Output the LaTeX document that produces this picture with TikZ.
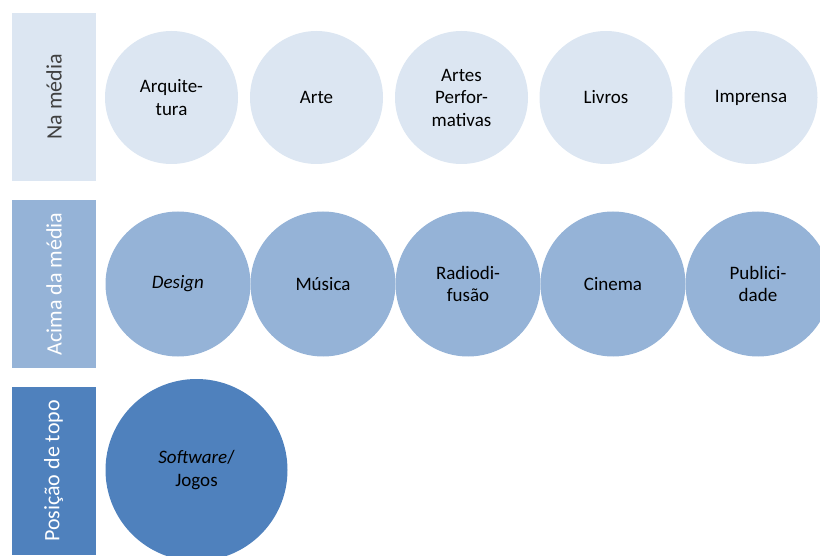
\documentclass[tikz,border=0pt]{standalone}
\usepackage{fontspec}
\setmainfont{Carlito}
\begin{document}
\begin{tikzpicture}[x=1pt,y=-1pt,
  bar/.style={minimum width=84pt,minimum height=168pt,inner sep=0pt,outer sep=0pt},
  lbl/.style={rotate=90,font=\fontsize{22}{26}\selectfont},
  circA/.style={circle,fill=lightb,minimum size=133pt,inner sep=0pt,align=center,font=\fontsize{19}{22.5}\selectfont,text=black},
  circB/.style={circle,fill=midb,minimum size=145pt,inner sep=0pt,align=center,font=\fontsize{19}{22.5}\selectfont,text=black},
  circC/.style={circle,fill=darkb,minimum size=182pt,inner sep=0pt,align=center,font=\fontsize{19}{22.5}\selectfont,text=black}]
\definecolor{lightb}{HTML}{DCE6F2}
\definecolor{midb}{HTML}{95B3D7}
\definecolor{darkb}{HTML}{4F81BD}
\definecolor{lbldark}{HTML}{404040}
\useasboundingbox (0,0) rectangle (820,556);
\begin{scope}
\clip (0,0) rectangle (820,556);
% bars
\node[bar,fill=lightb] (b1) at (54,97) {};
\node[bar,fill=midb] (b2) at (54,284) {};
\node[bar,fill=darkb] (b3) at (53.5,471) {};
\node[lbl,text=lbldark] (l1) at (b1) {Na média};
\node[lbl,text=white] (l2) at (b2) {Acima da média};
\node[lbl,text=white] (l3) at (b3) {Posição de topo};
% row 1
\node[circA] (a1) at (171.5,97.5) {Arquite-\\tura};
\node[circA] (a2) at (316.5,97.5) {Arte};
\node[circA] (a3) at (461.5,97.5) {Artes\\Perfor-\\mativas};
\node[circA] (a4) at (606,97.5) {Livros};
\node[circA] (a5) at (751,97.5) {Imprensa};
% row 2
\node[circB] (m1) at (178,284) {\textit{Design}};
\node[circB] (m2) at (323,284) {Música};
\node[circB] (m3) at (468,284) {Radiodi-\\fusão};
\node[circB] (m4) at (613,284) {Cinema};
\node[circB] (m5) at (758,284) {Publici-\\dade};
% row 3
\node[circC] (t1) at (196.5,470) {\textit{Software}/\\Jogos};
\end{scope}
\end{tikzpicture}
\end{document}
